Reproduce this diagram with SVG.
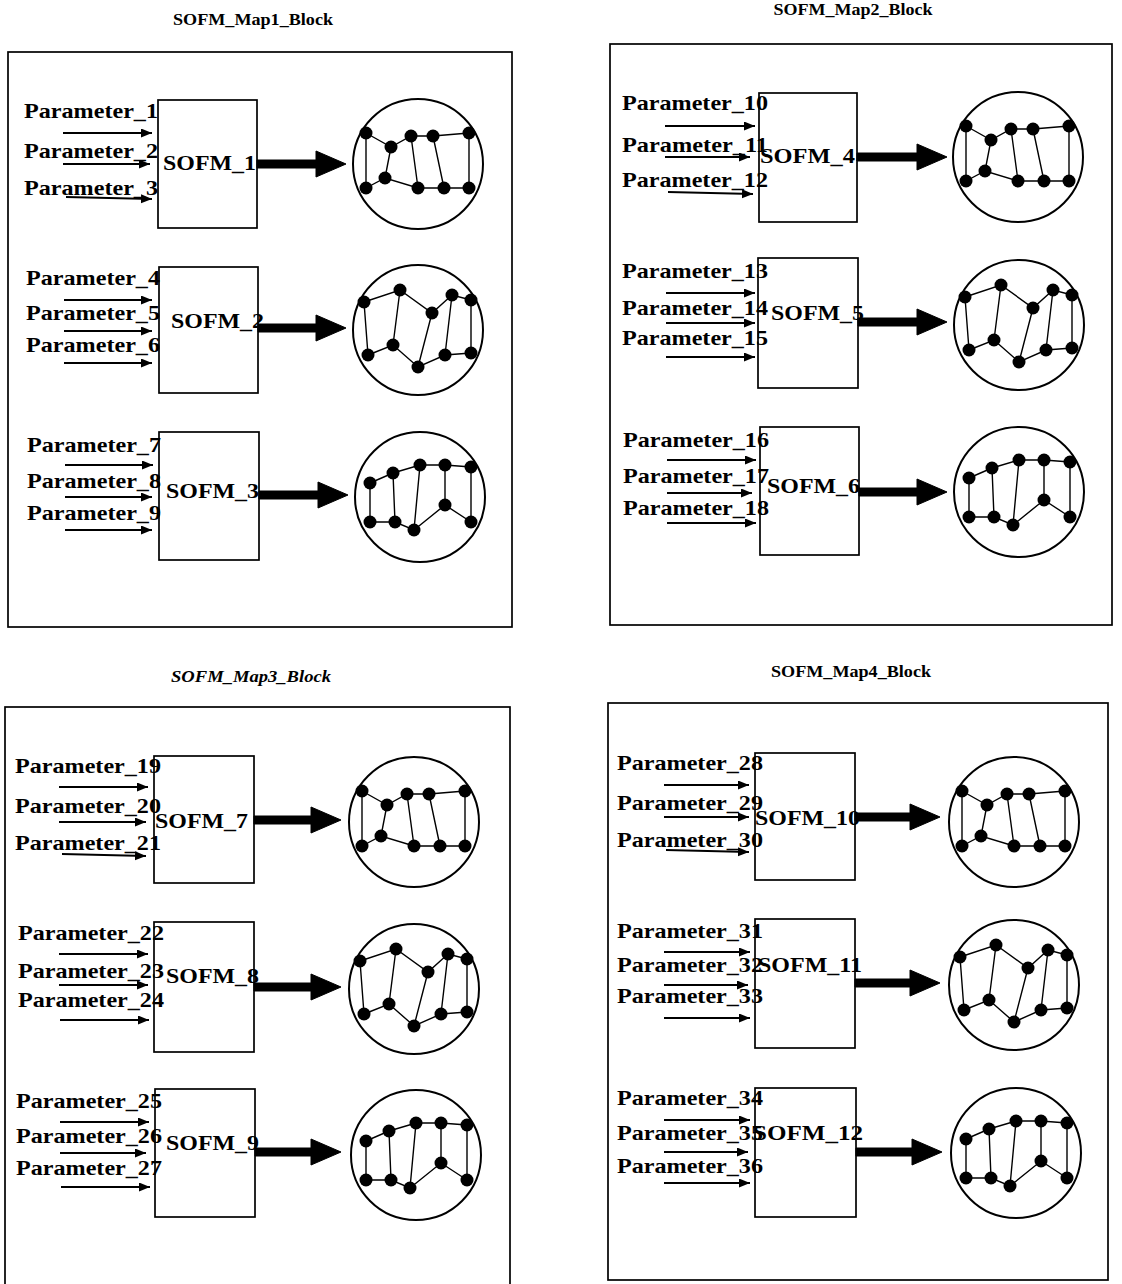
<svg xmlns="http://www.w3.org/2000/svg" xmlns:xlink="http://www.w3.org/1999/xlink" width="1122" height="1284" viewBox="0 0 1122 1284">
<style>
.bg{fill:#fff}
.blk{fill:none;stroke:#000;stroke-width:1.7}
.box{fill:none;stroke:#000;stroke-width:1.7}
.t{font-family:"Liberation Serif","Times New Roman",serif;font-weight:bold;fill:#000}
.title{font-size:16px}
.p{font-size:21px}
.s{font-size:21px}
.ring{fill:none;stroke:#000;stroke-width:2}
.edge{fill:none;stroke:#000;stroke-width:1.4}
.dot{fill:#000}
.in{stroke:#000;stroke-width:1.9;fill:none}
.out{fill:#000;stroke:#000;stroke-width:1}
</style>
<defs>
<marker id="ah" markerUnits="userSpaceOnUse" markerWidth="12" markerHeight="10" refX="11" refY="4.5" orient="auto">
<path d="M0,0L11,4.5L0,9Z" fill="#000"/>
</marker>
<g id="patA">
<circle class="ring" r="65"/>
<polyline class="edge" points="-52,-31 -27,-17 -7,-28 15,-28 51,-31"/>
<polyline class="edge" points="-52,24 -33,14 0,24 26,24 51,24"/>
<path class="edge" d="M-52,-31L-52,24M-27,-17L-33,14M-7,-28L0,24M15,-28L26,24M51,-31L51,24"/>
<g class="dot"><circle cx="-52" cy="-31" r="6.5"/><circle cx="-27" cy="-17" r="6.5"/><circle cx="-7" cy="-28" r="6.5"/><circle cx="15" cy="-28" r="6.5"/><circle cx="51" cy="-31" r="6.5"/><circle cx="-52" cy="24" r="6.5"/><circle cx="-33" cy="14" r="6.5"/><circle cx="0" cy="24" r="6.5"/><circle cx="26" cy="24" r="6.5"/><circle cx="51" cy="24" r="6.5"/></g>
</g>
<g id="patB">
<circle class="ring" r="65"/>
<polyline class="edge" points="-54,-28 -18,-40 14,-17 34,-35 53,-30"/>
<polyline class="edge" points="-50,25 -25,15 0,37 27,25 53,23"/>
<path class="edge" d="M-54,-28L-50,25M-18,-40L-25,15M14,-17L0,37M34,-35L27,25M53,-30L53,23"/>
<g class="dot"><circle cx="-54" cy="-28" r="6.5"/><circle cx="-18" cy="-40" r="6.5"/><circle cx="14" cy="-17" r="6.5"/><circle cx="34" cy="-35" r="6.5"/><circle cx="53" cy="-30" r="6.5"/><circle cx="-50" cy="25" r="6.5"/><circle cx="-25" cy="15" r="6.5"/><circle cx="0" cy="37" r="6.5"/><circle cx="27" cy="25" r="6.5"/><circle cx="53" cy="23" r="6.5"/></g>
</g>
<g id="patC">
<circle class="ring" r="65"/>
<polyline class="edge" points="-50,-14 -27,-24 0,-32 25,-32 51,-30"/>
<polyline class="edge" points="-50,25 -25,25 -6,33 25,8 51,25"/>
<path class="edge" d="M-50,-14L-50,25M-27,-24L-25,25M0,-32L-6,33M25,-32L25,8M51,-30L51,25"/>
<g class="dot"><circle cx="-50" cy="-14" r="6.5"/><circle cx="-27" cy="-24" r="6.5"/><circle cx="0" cy="-32" r="6.5"/><circle cx="25" cy="-32" r="6.5"/><circle cx="51" cy="-30" r="6.5"/><circle cx="-50" cy="25" r="6.5"/><circle cx="-25" cy="25" r="6.5"/><circle cx="-6" cy="33" r="6.5"/><circle cx="25" cy="8" r="6.5"/><circle cx="51" cy="25" r="6.5"/></g>
</g>
</defs>
<rect class="bg" x="0" y="0" width="1122" height="1284"/>

<!-- Block frames and titles -->
<g id="block1">
<text class="t title" x="253" y="25" text-anchor="middle" textLength="160" lengthAdjust="spacingAndGlyphs">SOFM_Map1_Block</text>
<rect class="blk" x="8" y="52" width="504" height="575"/>
</g>
<g id="block2">
<text class="t title" x="853" y="15" text-anchor="middle" textLength="159" lengthAdjust="spacingAndGlyphs">SOFM_Map2_Block</text>
<rect class="blk" x="610" y="44" width="502" height="581"/>
</g>
<g id="block3">
<text class="t title" x="251" y="682" text-anchor="middle" font-style="italic" textLength="160" lengthAdjust="spacingAndGlyphs">SOFM_Map3_Block</text>
<rect class="blk" x="5" y="707" width="505" height="590"/>
</g>
<g id="block4">
<text class="t title" x="851" y="677" text-anchor="middle" textLength="160" lengthAdjust="spacingAndGlyphs">SOFM_Map4_Block</text>
<rect class="blk" x="608" y="703" width="500" height="577"/>
</g>

<!-- SOFM nodes with parameter labels -->
<g id="sofm1"><rect class="box" x="158" y="100" width="99" height="128"/>
<text class="t p" x="24" y="118" textLength="134" lengthAdjust="spacingAndGlyphs">Parameter_1</text>
<text class="t p" x="24" y="158" textLength="134" lengthAdjust="spacingAndGlyphs">Parameter_2</text>
<text class="t p" x="24" y="195" textLength="134" lengthAdjust="spacingAndGlyphs">Parameter_3</text>
<text class="t s" x="163" y="170" textLength="93" lengthAdjust="spacingAndGlyphs">SOFM_1</text></g>
<g id="sofm2"><rect class="box" x="159" y="267" width="99" height="126"/>
<text class="t p" x="26" y="285" textLength="134" lengthAdjust="spacingAndGlyphs">Parameter_4</text>
<text class="t p" x="26" y="320" textLength="134" lengthAdjust="spacingAndGlyphs">Parameter_5</text>
<text class="t p" x="26" y="352" textLength="134" lengthAdjust="spacingAndGlyphs">Parameter_6</text>
<text class="t s" x="171" y="328" textLength="93" lengthAdjust="spacingAndGlyphs">SOFM_2</text></g>
<g id="sofm3"><rect class="box" x="159" y="432" width="100" height="128"/>
<text class="t p" x="27" y="452" textLength="134" lengthAdjust="spacingAndGlyphs">Parameter_7</text>
<text class="t p" x="27" y="488" textLength="134" lengthAdjust="spacingAndGlyphs">Parameter_8</text>
<text class="t p" x="27" y="520" textLength="134" lengthAdjust="spacingAndGlyphs">Parameter_9</text>
<text class="t s" x="166" y="498" textLength="93" lengthAdjust="spacingAndGlyphs">SOFM_3</text></g>

<g id="sofm4"><rect class="box" x="759" y="93" width="98" height="129"/>
<text class="t p" x="622" y="110" textLength="146" lengthAdjust="spacingAndGlyphs">Parameter_10</text>
<text class="t p" x="622" y="152" textLength="146" lengthAdjust="spacingAndGlyphs">Parameter_11</text>
<text class="t p" x="622" y="187" textLength="146" lengthAdjust="spacingAndGlyphs">Parameter_12</text>
<text class="t s" x="760" y="163" textLength="95" lengthAdjust="spacingAndGlyphs">SOFM_4</text></g>
<g id="sofm5"><rect class="box" x="758" y="258" width="100" height="130"/>
<text class="t p" x="622" y="278" textLength="146" lengthAdjust="spacingAndGlyphs">Parameter_13</text>
<text class="t p" x="622" y="315" textLength="146" lengthAdjust="spacingAndGlyphs">Parameter_14</text>
<text class="t p" x="622" y="345" textLength="146" lengthAdjust="spacingAndGlyphs">Parameter_15</text>
<text class="t s" x="771" y="320" textLength="93" lengthAdjust="spacingAndGlyphs">SOFM_5</text></g>
<g id="sofm6"><rect class="box" x="760" y="427" width="99" height="128"/>
<text class="t p" x="623" y="447" textLength="146" lengthAdjust="spacingAndGlyphs">Parameter_16</text>
<text class="t p" x="623" y="483" textLength="146" lengthAdjust="spacingAndGlyphs">Parameter_17</text>
<text class="t p" x="623" y="515" textLength="146" lengthAdjust="spacingAndGlyphs">Parameter_18</text>
<text class="t s" x="767" y="493" textLength="93" lengthAdjust="spacingAndGlyphs">SOFM_6</text></g>

<g id="sofm7"><rect class="box" x="154" y="756" width="100" height="127"/>
<text class="t p" x="15" y="773" textLength="146" lengthAdjust="spacingAndGlyphs">Parameter_19</text>
<text class="t p" x="15" y="813" textLength="146" lengthAdjust="spacingAndGlyphs">Parameter_20</text>
<text class="t p" x="15" y="850" textLength="146" lengthAdjust="spacingAndGlyphs">Parameter_21</text>
<text class="t s" x="155" y="828" textLength="93" lengthAdjust="spacingAndGlyphs">SOFM_7</text></g>
<g id="sofm8"><rect class="box" x="154" y="922" width="100" height="130"/>
<text class="t p" x="18" y="940" textLength="146" lengthAdjust="spacingAndGlyphs">Parameter_22</text>
<text class="t p" x="18" y="978" textLength="146" lengthAdjust="spacingAndGlyphs">Parameter_23</text>
<text class="t p" x="18" y="1007" textLength="146" lengthAdjust="spacingAndGlyphs">Parameter_24</text>
<text class="t s" x="166" y="983" textLength="93" lengthAdjust="spacingAndGlyphs">SOFM_8</text></g>
<g id="sofm9"><rect class="box" x="155" y="1089" width="100" height="128"/>
<text class="t p" x="16" y="1108" textLength="146" lengthAdjust="spacingAndGlyphs">Parameter_25</text>
<text class="t p" x="16" y="1143" textLength="146" lengthAdjust="spacingAndGlyphs">Parameter_26</text>
<text class="t p" x="16" y="1175" textLength="146" lengthAdjust="spacingAndGlyphs">Parameter_27</text>
<text class="t s" x="166" y="1150" textLength="93" lengthAdjust="spacingAndGlyphs">SOFM_9</text></g>

<g id="sofm10"><rect class="box" x="755" y="753" width="100" height="127"/>
<text class="t p" x="617" y="770" textLength="146" lengthAdjust="spacingAndGlyphs">Parameter_28</text>
<text class="t p" x="617" y="810" textLength="146" lengthAdjust="spacingAndGlyphs">Parameter_29</text>
<text class="t p" x="617" y="847" textLength="146" lengthAdjust="spacingAndGlyphs">Parameter_30</text>
<text class="t s" x="755" y="825" textLength="105" lengthAdjust="spacingAndGlyphs">SOFM_10</text></g>
<g id="sofm11"><rect class="box" x="755" y="919" width="100" height="129"/>
<text class="t p" x="617" y="938" textLength="146" lengthAdjust="spacingAndGlyphs">Parameter_31</text>
<text class="t p" x="617" y="972" textLength="146" lengthAdjust="spacingAndGlyphs">Parameter_32</text>
<text class="t p" x="617" y="1003" textLength="146" lengthAdjust="spacingAndGlyphs">Parameter_33</text>
<text class="t s" x="758" y="972" textLength="104" lengthAdjust="spacingAndGlyphs">SOFM_11</text></g>
<g id="sofm12"><rect class="box" x="755" y="1088" width="101" height="129"/>
<text class="t p" x="617" y="1105" textLength="146" lengthAdjust="spacingAndGlyphs">Parameter_34</text>
<text class="t p" x="617" y="1140" textLength="146" lengthAdjust="spacingAndGlyphs">Parameter_35</text>
<text class="t p" x="617" y="1173" textLength="146" lengthAdjust="spacingAndGlyphs">Parameter_36</text>
<text class="t s" x="753" y="1140" textLength="110" lengthAdjust="spacingAndGlyphs">SOFM_12</text></g>

<!-- Map nodes -->
<g id="map1"><use xlink:href="#patA" href="#patA" transform="translate(418,164)"/></g>
<g id="map2"><use xlink:href="#patB" href="#patB" transform="translate(418,330)"/></g>
<g id="map3"><use xlink:href="#patC" href="#patC" transform="translate(420,497)"/></g>
<g id="map4"><use xlink:href="#patA" href="#patA" transform="translate(1018,157)"/></g>
<g id="map5"><use xlink:href="#patB" href="#patB" transform="translate(1019,325)"/></g>
<g id="map6"><use xlink:href="#patC" href="#patC" transform="translate(1019,492)"/></g>
<g id="map7"><use xlink:href="#patA" href="#patA" transform="translate(414,822)"/></g>
<g id="map8"><use xlink:href="#patB" href="#patB" transform="translate(414,989)"/></g>
<g id="map9"><use xlink:href="#patC" href="#patC" transform="translate(416,1155)"/></g>
<g id="map10"><use xlink:href="#patA" href="#patA" transform="translate(1014,822)"/></g>
<g id="map11"><use xlink:href="#patB" href="#patB" transform="translate(1014,985)"/></g>
<g id="map12"><use xlink:href="#patC" href="#patC" transform="translate(1016,1153)"/></g>

<!-- Connectors -->
<g id="connectors">
<g class="in">
<path d="M63,133H152" marker-end="url(#ah)"/><path d="M63,164H150" marker-end="url(#ah)"/><path d="M66,197L152,199" marker-end="url(#ah)"/>
<path d="M64,300H152" marker-end="url(#ah)"/><path d="M64,331H152" marker-end="url(#ah)"/><path d="M64,363H152" marker-end="url(#ah)"/>
<path d="M65,465H153" marker-end="url(#ah)"/><path d="M65,497H152" marker-end="url(#ah)"/><path d="M65,530H152" marker-end="url(#ah)"/>
<path d="M665,126H755" marker-end="url(#ah)"/><path d="M665,157H750" marker-end="url(#ah)"/><path d="M668,192L753,194" marker-end="url(#ah)"/>
<path d="M666,293H755" marker-end="url(#ah)"/><path d="M666,323H755" marker-end="url(#ah)"/><path d="M666,357H755" marker-end="url(#ah)"/>
<path d="M667,460H756" marker-end="url(#ah)"/><path d="M667,493H752" marker-end="url(#ah)"/><path d="M667,523H756" marker-end="url(#ah)"/>
<path d="M59,787H148" marker-end="url(#ah)"/><path d="M59,822H146" marker-end="url(#ah)"/><path d="M62,854L146,856" marker-end="url(#ah)"/>
<path d="M59,954H148" marker-end="url(#ah)"/><path d="M59,985H148" marker-end="url(#ah)"/><path d="M60,1020H149" marker-end="url(#ah)"/>
<path d="M60,1122H149" marker-end="url(#ah)"/><path d="M60,1153H146" marker-end="url(#ah)"/><path d="M61,1187H150" marker-end="url(#ah)"/>
<path d="M664,785H749" marker-end="url(#ah)"/><path d="M664,817H749" marker-end="url(#ah)"/><path d="M666,850L749,852" marker-end="url(#ah)"/>
<path d="M664,952H750" marker-end="url(#ah)"/><path d="M664,985H748" marker-end="url(#ah)"/><path d="M664,1018H750" marker-end="url(#ah)"/>
<path d="M664,1120H750" marker-end="url(#ah)"/><path d="M664,1152H748" marker-end="url(#ah)"/><path d="M664,1183H750" marker-end="url(#ah)"/>
</g>
<g class="out">
<path d="M257,160H316V151L346,164L316,177V168H257Z"/>
<path d="M258,324H316V315L346,328L316,341V332H258Z"/>
<path d="M259,491H318V482L348,495L318,508V499H259Z"/>
<path d="M857,153H917V144L947,157L917,170V161H857Z"/>
<path d="M858,318H917V309L947,322L917,335V326H858Z"/>
<path d="M859,488H917V479L947,492L917,505V496H859Z"/>
<path d="M254,816H311V807L341,820L311,833V824H254Z"/>
<path d="M254,983H311V974L341,987L311,1000V991H254Z"/>
<path d="M255,1148H311V1139L341,1152L311,1165V1156H255Z"/>
<path d="M855,813H910V804L940,817L910,830V821H855Z"/>
<path d="M855,979H910V970L940,983L910,996V987H855Z"/>
<path d="M856,1148H912V1139L942,1152L912,1165V1156H856Z"/>
</g>
</g>
</svg>
